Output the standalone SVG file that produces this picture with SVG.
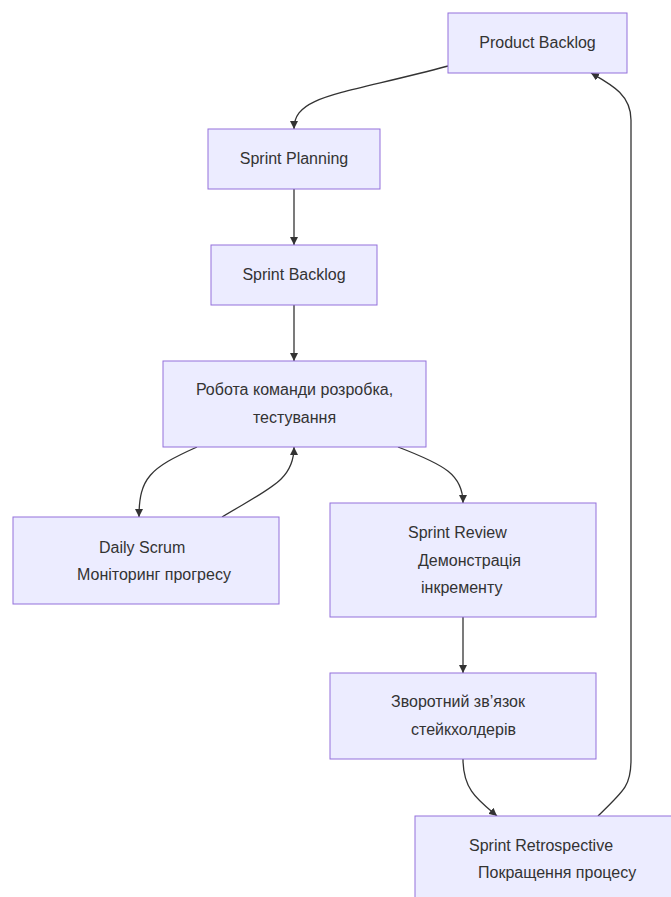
<svg xmlns="http://www.w3.org/2000/svg" width="671" height="897" viewBox="0 0 671 897">
<style>
.node rect{fill:#ECECFF;stroke:#9370DB;stroke-width:1px}
.node text{font-family:"Liberation Sans",Arial,sans-serif;font-size:16px;fill:#333}
.edge{fill:none;stroke:#333;stroke-width:1.3px;marker-end:url(#arrow)}
</style>
<defs>
<marker id="arrow" viewBox="0 0 10 10" refX="10" refY="5" markerWidth="8" markerHeight="8" markerUnits="userSpaceOnUse" orient="auto">
<path d="M0,0 L10,5 L0,10 z" fill="#333"/>
</marker>
</defs>
<rect width="671" height="897" fill="#fff"/>
<g id="connectors">
<path class="edge" d="M448,66 C340,95 294,95 294,129"/>
<path class="edge" d="M294,189 L294,245"/>
<path class="edge" d="M294,305 L294,361"/>
<path class="edge" d="M197,447 C150,468 139,478 139,517"/>
<path class="edge" d="M222,517 C270,488 294,480 294,447"/>
<path class="edge" d="M398,447 C445,465 463,475 463,503"/>
<path class="edge" d="M463,617 L463,673"/>
<path class="edge" d="M463,759 C463,790 478,800 497,816"/>
<path class="edge" d="M598,816 C625,790 631,785 631,760 L631,120 C631,95 612,85 591,73"/>
</g>
<g id="productBacklog" class="node">
<rect x="448" y="13" width="179" height="60"/>
<text x="537.5" y="48" text-anchor="middle">Product Backlog</text>
</g>
<g id="sprintPlanning" class="node">
<rect x="208" y="129" width="172" height="60"/>
<text x="294" y="164" text-anchor="middle">Sprint Planning</text>
</g>
<g id="sprintBacklog" class="node">
<rect x="211" y="245" width="166" height="60"/>
<text x="294" y="280" text-anchor="middle">Sprint Backlog</text>
</g>
<g id="teamWork" class="node">
<rect x="163" y="361" width="263" height="86"/>
<text x="294.5" y="395" text-anchor="middle">Робота команди розробка,</text>
<text x="294.5" y="423" text-anchor="middle">тестування</text>
</g>
<g id="dailyScrum" class="node">
<rect x="13" y="517" width="266" height="87"/>
<text x="99" y="553">Daily Scrum</text>
<text x="77" y="580">Моніторинг прогресу</text>
</g>
<g id="sprintReview" class="node">
<rect x="330" y="503" width="266" height="114"/>
<text x="408" y="538">Sprint Review</text>
<text x="418" y="566">Демонстрація</text>
<text x="421" y="593">інкременту</text>
</g>
<g id="feedback" class="node">
<rect x="330" y="673" width="266" height="86"/>
<text x="458" y="707" text-anchor="middle">Зворотний зв’язок</text>
<text x="463.5" y="735" text-anchor="middle">стейкхолдерів</text>
</g>
<g id="sprintRetro" class="node">
<rect x="415" y="816" width="266" height="90"/>
<text x="469" y="851">Sprint Retrospective</text>
<text x="478" y="878">Покращення процесу</text>
</g>
</svg>
